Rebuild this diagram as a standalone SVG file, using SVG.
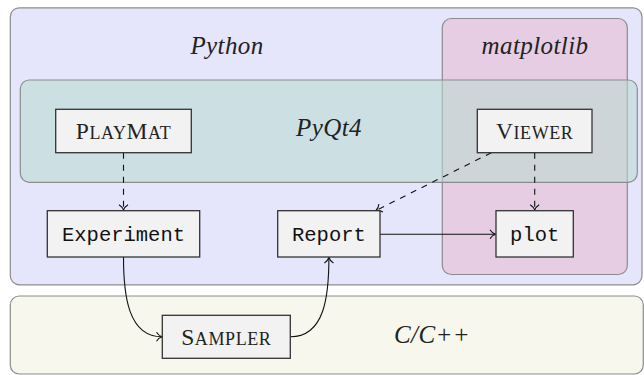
<svg xmlns="http://www.w3.org/2000/svg" width="644" height="375" viewBox="0 0 644 375">
<defs>
<style>
.region{stroke:#8c8c8c;stroke-width:1.2}
.node rect{fill:#f2f2f2;stroke:#333;stroke-width:1.3}
.lbl{font-family:"Liberation Serif",serif;font-style:italic;font-size:25px;fill:#222;text-anchor:middle;letter-spacing:0.4px}
.sc{font-family:"Liberation Serif",serif;font-size:23.5px;fill:#222;text-anchor:middle;letter-spacing:0.6px}
.sc .s{font-size:18px}
.tt{font-family:"Liberation Mono",monospace;font-size:20.5px;fill:#111;text-anchor:middle}
.conn{fill:none;stroke:#111;stroke-width:1.1}
.dash{stroke-dasharray:6 6}
</style>
<marker id="to" markerWidth="12" markerHeight="12" refX="0" refY="0" viewBox="-7 -6 9 12" orient="auto" markerUnits="userSpaceOnUse">
<path d="M-5.5,-4.5 C-4,-2 -1.5,-0.5 0,0 C-1.5,0.5 -4,2 -5.5,4.5" fill="none" stroke="#111" stroke-width="1.1" stroke-dasharray="none"/>
</marker>
</defs>
<g id="python">
<rect class="region" x="10.3" y="7.8" width="631.7" height="277" rx="9" fill="#e5e5fb"/>
<text class="lbl" x="227" y="54">Python</text>
</g>
<g id="matplotlib">
<rect class="region" x="442.3" y="18.5" width="185" height="256" rx="9" fill="#e9b5cc" fill-opacity="0.5"/>
<text class="lbl" x="535" y="54">matplotlib</text>
</g>
<g id="pyqt4">
<rect class="region" x="20.3" y="80" width="617" height="102.3" rx="9" fill="#b8dcd2" fill-opacity="0.55"/>
<text class="lbl" x="329" y="136">PyQt4</text>
</g>
<g id="ccpp">
<rect class="region" x="10.3" y="296" width="633" height="78" rx="9" fill="#f7f7ed"/>
<text class="lbl" x="432" y="343">C/C++</text>
</g>
<g id="connectors">
<path class="conn dash" d="M123.5,152.7 L123.5,210.2" marker-end="url(#to)"/>
<path class="conn dash" d="M534.7,152.7 L534.7,210.2" marker-end="url(#to)"/>
<path class="conn dash" d="M491.3,152.7 L376,210.5" marker-end="url(#to)"/>
<path class="conn" d="M380,234.3 L495.5,234.3" marker-end="url(#to)"/>
<path class="conn" d="M123.5,257 C123.5,295 128,336.8 162,336.8" marker-end="url(#to)"/>
<path class="conn" d="M290.3,336.8 C325,336.8 328.9,295 328.9,257.5" marker-end="url(#to)"/>
</g>
<g id="playmat" class="node">
<rect x="55.7" y="109.3" width="135.6" height="43.4"/>
<text class="sc" x="123.5" y="139.3">P<tspan class="s">LAY</tspan>M<tspan class="s">AT</tspan></text>
</g>
<g id="viewer" class="node">
<rect x="477.3" y="109.3" width="114.7" height="43.4"/>
<text class="sc" x="534.7" y="139.3">V<tspan class="s">IEWER</tspan></text>
</g>
<g id="experiment" class="node">
<rect x="47.3" y="210.7" width="152.4" height="46.3"/>
<text class="tt" x="123.5" y="240.5">Experiment</text>
</g>
<g id="report" class="node">
<rect x="277.7" y="210.7" width="102.3" height="46.3"/>
<text class="tt" x="328.9" y="240.5">Report</text>
</g>
<g id="plot" class="node">
<rect x="496" y="210.7" width="77.3" height="46.3"/>
<text class="tt" x="534.7" y="240.5">plot</text>
</g>
<g id="sampler" class="node">
<rect x="162.3" y="315.3" width="128" height="43"/>
<text class="sc" x="226.3" y="344.5">S<tspan class="s">AMPLER</tspan></text>
</g>
</svg>
